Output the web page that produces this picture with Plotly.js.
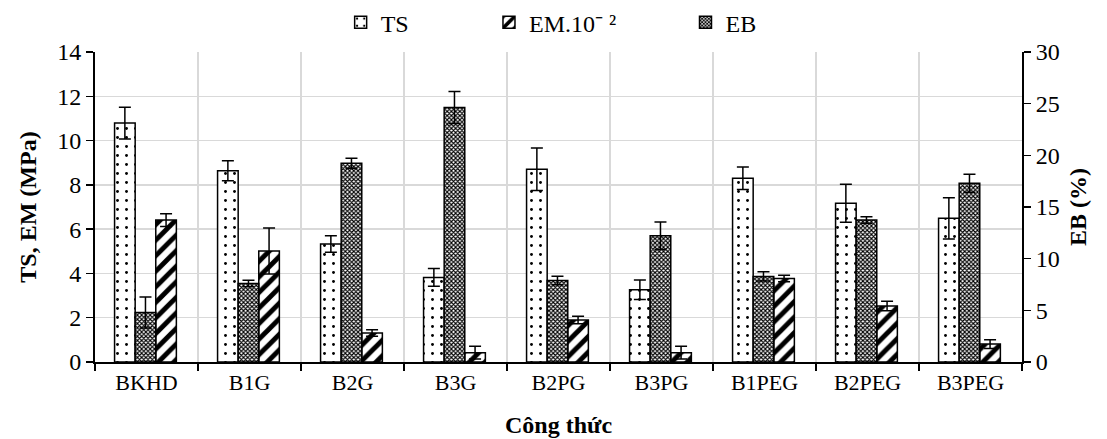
<!DOCTYPE html>
<html>
<head>
<meta charset="utf-8">
<script src="https://cdn.plot.ly/plotly-3.0.1.min.js"></script>
<style>html,body{margin:0;padding:0;background:#fff;}#chart{width:1107px;height:439px;}</style>
</head>
<body>
<div id="chart"></div>
<script>
var categories = ["BKHD","B1G","B2G","B3G","B2PG","B3PG","B1PEG","B2PEG","B3PEG"];
var tsValues = [10.79, 8.64, 5.33, 3.82, 8.71, 3.26, 8.30, 7.17, 6.49];
var tsErrors = [0.72, 0.45, 0.37, 0.40, 0.96, 0.44, 0.51, 0.86, 0.93];
var ebValues = [4.78, 7.60, 19.24, 24.63, 7.89, 12.21, 8.28, 13.74, 17.29];
var ebErrors = [1.50, 0.32, 0.48, 1.55, 0.42, 1.33, 0.45, 0.32, 0.87];
var emValues = [6.41, 5.01, 1.31, 0.42, 1.90, 0.42, 3.77, 2.53, 0.81];
var emErrors = [0.29, 1.04, 0.15, 0.29, 0.17, 0.29, 0.15, 0.21, 0.20];
var seriesNames = ["TS", "EM.10⁻ ²", "EB"];

var font = "'Liberation Serif', 'Times New Roman', serif";
var errStyle = {type:'data', visible:true, color:'#000', thickness:1.5, width:6};
var lineStyle = {color:'#000', width:1.5};

var traces = [
  {type:'bar', name:seriesNames[0], x:categories, y:tsValues, yaxis:'y', legend:'legend',
   error_y:Object.assign({array:tsErrors}, errStyle), width:0.2, offset:-0.31,
   marker:{color:'#fff', line:lineStyle, pattern:{shape:'.', fgcolor:'#000', bgcolor:'#fff', size:9, solidity:0.08}}},
  {type:'bar', name:seriesNames[2], x:categories, y:ebValues, yaxis:'y2', legend:'legend3',
   error_y:Object.assign({array:ebErrors}, errStyle), width:0.2, offset:-0.11,
   marker:{color:'#fff', line:lineStyle, pattern:{shape:'x', fgcolor:'#000', bgcolor:'#fff', size:3, solidity:0.6}}},
  {type:'bar', name:seriesNames[1], x:categories, y:emValues, yaxis:'y', legend:'legend2',
   error_y:Object.assign({array:emErrors}, errStyle), width:0.2, offset:0.09,
   marker:{color:'#fff', line:lineStyle, pattern:{shape:'/', fgcolor:'#000', bgcolor:'#fff', size:11, solidity:0.45}}}
];

var legBase = {orientation:'h', yanchor:'middle', y:1.095, xanchor:'left', font:{family:font, size:24, color:'#000'}, bgcolor:'rgba(0,0,0,0)', itemwidth:30, tracegroupgap:0};

var layout = {
  width:1107, height:439,
  margin:{l:95, r:85, t:52, b:77, autoexpand:false},
  paper_bgcolor:'#fff', plot_bgcolor:'#fff',
  barmode:'overlay',
  font:{family:font, size:22, color:'#000'},
  showlegend:true,
  legend:Object.assign({}, legBase, {x:0.265}),
  legend2:Object.assign({}, legBase, {x:0.425}),
  legend3:Object.assign({}, legBase, {x:0.637}),
  xaxis:{type:'category', tickson:'boundaries', ticks:'outside', ticklen:7, tickwidth:1.5, tickcolor:'#000',
         showgrid:true, gridcolor:'#d9d9d9', gridwidth:1.5, showline:true, linecolor:'#000', linewidth:2,
         tickfont:{family:font, size:22, color:'#000'}, automargin:false,
         title:{text:'<b>Công thức</b>', font:{family:font, size:24, color:'#000'}, standoff:22}},
  yaxis:{range:[0,14], dtick:2, ticks:'outside', ticklen:7, tickwidth:1.5, tickcolor:'#000',
         showgrid:true, gridcolor:'#d9d9d9', gridwidth:1.5, showline:true, linecolor:'#000', linewidth:2,
         zeroline:false, tickfont:{family:font, size:24, color:'#000'}, automargin:false,
         title:{text:'<b>TS, EM (MPa)</b>', font:{family:font, size:24, color:'#000'}, standoff:14}},
  yaxis2:{range:[0,30], dtick:5, overlaying:'y', side:'right', ticks:'outside', ticklen:7, tickwidth:1.5, tickcolor:'#000',
          showgrid:false, showline:true, linecolor:'#000', linewidth:2, zeroline:false, automargin:false,
          tickfont:{family:font, size:24, color:'#000'},
          title:{text:'<b>EB (%)</b>', font:{family:font, size:24, color:'#000'}, standoff:10}}
};

Plotly.newPlot('chart', traces, layout, {displayModeBar:false, staticPlot:true});
</script>
</body>
</html>
